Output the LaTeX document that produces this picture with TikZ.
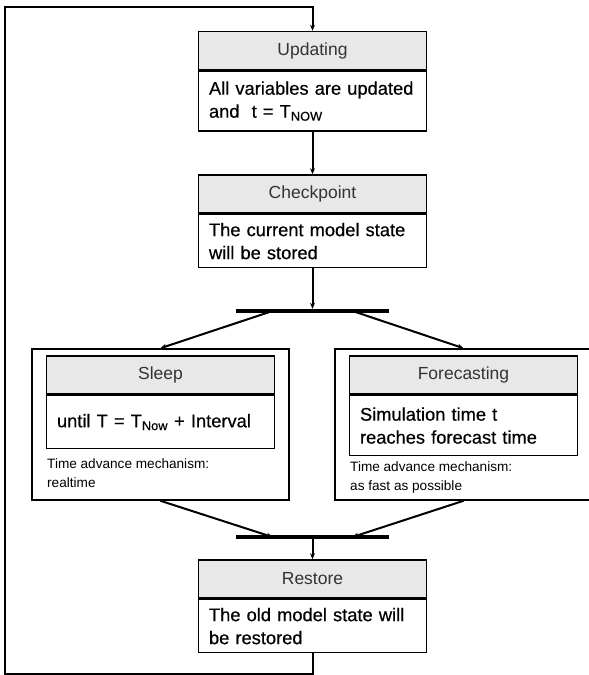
\documentclass[tikz,border=0pt]{standalone}
\usepackage{fontspec}
\setmainfont{Liberation Sans}
\newfontface\bodyface{Liberation Sans}[FakeBold=0.5]
\usetikzlibrary{arrows.meta}
\definecolor{headgray}{RGB}{232, 232, 232}
\definecolor{headtext}{RGB}{51, 51, 51}

\tikzset{
  head/.style = {draw, fill = headgray, text = headtext, line width = 1.6pt,
    minimum width = 228pt, minimum height = 38pt, inner sep = 0pt,
    font = \fontsize{17.5}{21}\selectfont},
  body/.style = {draw, line width = 1.6pt, text width = 207pt, inner xsep = 10.5pt,
    inner ysep = 0pt, align = left, font = \bodyface\fontsize{18.3}{23}\selectfont},
  frame/.style = {draw, line width = 1.6pt, minimum width = 257pt,
    minimum height = 151pt, inner sep = 0pt},
  note/.style = {inner sep = 0pt, align = left, font = \fontsize{13.6}{19.5}\selectfont},
  bar/.style = {fill = black, minimum width = 153pt, minimum height = 4pt, inner sep = 0pt},
  flow/.style = {line width = 2pt, -{Stealth[length = 6pt, width = 5pt]}}
}

\begin{document}
\begin{tikzpicture}[x = 1pt, y = -1pt]
			\useasboundingbox (0,0) rectangle (589,675);
			% frames round the two branches
			\node (sleepF) at (160.5,424.5) [frame] {};
			\node (foreF) at (463.5,424.5) [frame] {};
			% main column
			\node (updH) at (312.5,50.5) [head] {Updating};
			\node (upd) at (updH.south) [body, anchor = north, minimum height = 60pt] {All variables are updated\\and~~t = T\textsubscript{NOW}};
			\node (chkH) at (312.5,194) [head] {Checkpoint};
			\node (chk) at (chkH.south) [body, anchor = north, minimum height = 53pt] {The current model state\\will be stored};
			\node (fork) at (312.5,311) [bar] {};
			% branches
			\node (sleepH) at (160.5,375) [head] {Sleep};
			\node (sleep) at (sleepH.south) [body, anchor = north, minimum height = 53pt] {until T = T\textsubscript{Now} + Interval};
			\node (sleepN) at (47,473) [note, anchor = west] {Time advance mechanism:\\realtime};
			\node (foreH) at (463.5,375) [head] {Forecasting};
			\node (fore) at (foreH.south) [body, anchor = north, minimum height = 60pt] {Simulation time t\\reaches forecast time};
			\node (foreN) at (350,477.5) [note, anchor = west] {Time advance mechanism:\\as fast as possible};
			\node (join) at (312.5,537) [bar] {};
			\node (rstH) at (312.5,579) [head] {Restore};
			\node (rst) at (rstH.south) [body, anchor = north, minimum height = 53pt] {The old model state will\\be restored};
			\coordinate (loopSW) at (5,673.5);
			\coordinate (loopNW) at (5,7);
			\draw[flow] (upd) -- (chkH);
			\draw[flow] (chk) -- (fork);
			\draw[flow] ([xshift = -40pt]fork.center) -- (sleepF.north);
			\draw[flow] ([xshift = 40pt]fork.center) -- (foreF.north);
			\draw[flow] (sleepF.south) -- ([xshift = -40pt]join.center);
			\draw[flow] (foreF.south) -- ([xshift = 40pt]join.center);
			\draw[flow] (join) -- (rstH);
			\draw[flow] (rst.south) |- (loopSW) -- (loopNW) -| (updH.north);
\end{tikzpicture}
\end{document}
